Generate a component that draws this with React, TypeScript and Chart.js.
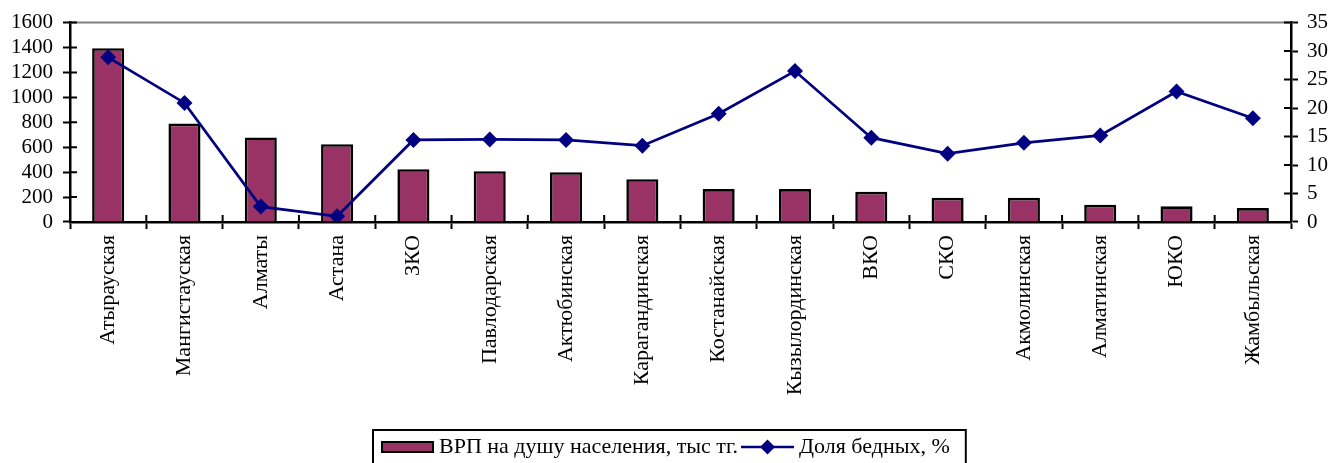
import React, { useEffect, useRef } from "react";
import { Chart, registerables } from "chart.js";

Chart.register(...registerables);

const categories = [
  "Атырауская", "Мангистауская", "Алматы", "Астана", "ЗКО", "Павлодарская",
  "Актюбинская", "Карагандинская", "Костанайская", "Кызылординская", "ВКО",
  "СКО", "Акмолинская", "Алматинская", "ЮКО", "Жамбыльская",
];
const grpPerCapita = [1395, 790, 678, 624, 424, 408, 400, 344, 264, 264, 242, 194, 194, 138, 126, 112];
const povertyShare = [28.9, 20.9, 2.7, 1.0, 14.4, 14.5, 14.4, 13.4, 19.0, 26.5, 14.8, 12.0, 13.9, 15.2, 22.9, 18.2];
const leftTicks = [0, 200, 400, 600, 800, 1000, 1200, 1400, 1600];
const rightTicks = [0, 5, 10, 15, 20, 25, 30, 35];
const legendLabels = ["ВРП на душу населения, тыс тг.", "Доля бедных, %"];

const FONT = "'Liberation Serif', 'Times New Roman', serif";
const BAR_COLOR = "#993366";
const LINE_COLOR = "#000080";
const TICK = 7;

const frameLegendPlugin = {
  id: "frameLegend",
  afterDraw(chart: any) {
    const ctx = chart.ctx;
    const { left, right, top, bottom } = chart.chartArea;
    ctx.save();
    // top gray border
    ctx.strokeStyle = "#808080";
    ctx.lineWidth = 2;
    ctx.beginPath();
    ctx.moveTo(left, top);
    ctx.lineTo(right, top);
    ctx.stroke();

    // inner halves of crossing tick marks
    ctx.strokeStyle = "#000";
    ctx.lineWidth = 2;
    ctx.beginPath();
    const n = categories.length;
    for (let i = 0; i <= n; i++) {
      const x = left + (i * (right - left)) / n;
      ctx.moveTo(x, bottom);
      ctx.lineTo(x, bottom - TICK);
    }
    const ys = chart.scales.y;
    leftTicks.forEach((v) => {
      const y = ys.getPixelForValue(v);
      ctx.moveTo(left, y);
      ctx.lineTo(left + TICK, y);
    });
    const y1 = chart.scales.y1;
    rightTicks.forEach((v) => {
      const y = y1.getPixelForValue(v);
      ctx.moveTo(right, y);
      ctx.lineTo(right - TICK, y);
    });
    ctx.stroke();

    // legend
    ctx.font = `22px ${FONT}`;
    ctx.textBaseline = "middle";
    ctx.fillStyle = "#000";
    const w1 = ctx.measureText(legendLabels[0]).width;
    const w2 = ctx.measureText(legendLabels[1]).width;
    const sw = 51;
    const lineLen = 53;
    const total = 9 + sw + 6 + w1 + 3 + lineLen + 5 + w2 + 16;
    const bx = 373;
    const by = 430;
    const cy = 447;
    ctx.strokeStyle = "#000";
    ctx.lineWidth = 2;
    ctx.strokeRect(bx, by, total, 60);
    let x = bx + 9;
    ctx.fillStyle = BAR_COLOR;
    ctx.fillRect(x, cy - 5, sw, 10);
    ctx.strokeRect(x, cy - 5, sw, 10);
    x += sw + 6;
    ctx.fillStyle = "#000";
    ctx.fillText(legendLabels[0], x, cy);
    x += w1 + 3;
    ctx.strokeStyle = LINE_COLOR;
    ctx.lineWidth = 2.5;
    ctx.beginPath();
    ctx.moveTo(x, cy);
    ctx.lineTo(x + lineLen, cy);
    ctx.stroke();
    const mx = x + lineLen / 2;
    ctx.fillStyle = LINE_COLOR;
    ctx.beginPath();
    ctx.moveTo(mx, cy - 7.5);
    ctx.lineTo(mx + 7.5, cy);
    ctx.lineTo(mx, cy + 7.5);
    ctx.lineTo(mx - 7.5, cy);
    ctx.closePath();
    ctx.fill();
    x += lineLen + 5;
    ctx.fillStyle = "#000";
    ctx.fillText(legendLabels[1], x, cy);
    ctx.restore();
  },
};

export default function App() {
  const canvasRef = useRef<HTMLCanvasElement | null>(null);

  useEffect(() => {
    if (!canvasRef.current) return;
    const chart = new Chart(canvasRef.current, {
      type: "bar",
      data: {
        labels: categories,
        datasets: [
          {
            type: "line",
            label: legendLabels[1],
            data: povertyShare,
            yAxisID: "y1",
            borderColor: LINE_COLOR,
            backgroundColor: LINE_COLOR,
            borderWidth: 2.7,
            pointStyle: "rectRot",
            pointRadius: 8,
            pointBackgroundColor: LINE_COLOR,
            pointBorderColor: LINE_COLOR,
            pointBorderWidth: 0,
            tension: 0,
            order: 0,
          },
          {
            type: "bar",
            label: legendLabels[0],
            data: grpPerCapita,
            yAxisID: "y",
            backgroundColor: BAR_COLOR,
            borderColor: "#000",
            borderWidth: 2.6,
            categoryPercentage: 1,
            barPercentage: 0.42,
            order: 1,
          },
        ],
      },
      options: {
        responsive: false,
        animation: false,
        layout: { padding: { top: 22, left: 0, right: 0, bottom: 0 } },
        plugins: { legend: { display: false }, tooltip: { enabled: false } },
        scales: {
          x: {
            offset: true,
            grid: {
              offset: true,
              drawOnChartArea: false,
              drawTicks: true,
              tickLength: TICK,
              tickWidth: 2,
              tickColor: "#000",
            },
            border: { display: true, color: "#000", width: 2.5 },
            ticks: {
              autoSkip: false,
              minRotation: 90,
              maxRotation: 90,
              padding: 6,
              color: "#000",
              font: { family: FONT, size: 22 },
            },
            afterFit(scale: any) {
              scale.height = 241;
            },
          },
          y: {
            position: "left",
            min: 0,
            max: 1600,
            afterBuildTicks(scale: any) {
              scale.ticks = leftTicks.map((v) => ({ value: v }));
            },
            grid: {
              drawOnChartArea: false,
              tickLength: TICK,
              tickWidth: 2,
              tickColor: "#000",
            },
            border: { display: true, color: "#000", width: 2.5 },
            ticks: {
              autoSkip: false,
              padding: 10,
              color: "#000",
              font: { family: FONT, size: 21 },
              callback: (v: any) => String(v),
            },
            afterFit(scale: any) {
              scale.width = 70;
            },
          },
          y1: {
            position: "right",
            min: 0,
            max: 35,
            afterBuildTicks(scale: any) {
              scale.ticks = rightTicks.map((v) => ({ value: v }));
            },
            grid: {
              drawOnChartArea: false,
              tickLength: TICK,
              tickWidth: 2,
              tickColor: "#000",
            },
            border: { display: true, color: "#000", width: 2.5 },
            ticks: {
              autoSkip: false,
              padding: 9,
              color: "#000",
              font: { family: FONT, size: 21 },
              callback: (v: any) => String(v),
            },
            afterFit(scale: any) {
              scale.width = 39;
            },
          },
        },
      },
      plugins: [frameLegendPlugin],
    });
    return () => chart.destroy();
  }, []);

  return (
    <div style={{ position: "fixed", left: 0, top: 0, width: 1330, height: 463, background: "#fff" }}>
      <canvas ref={canvasRef} width={1330} height={463} style={{ width: 1330, height: 463 }} />
    </div>
  );
}
